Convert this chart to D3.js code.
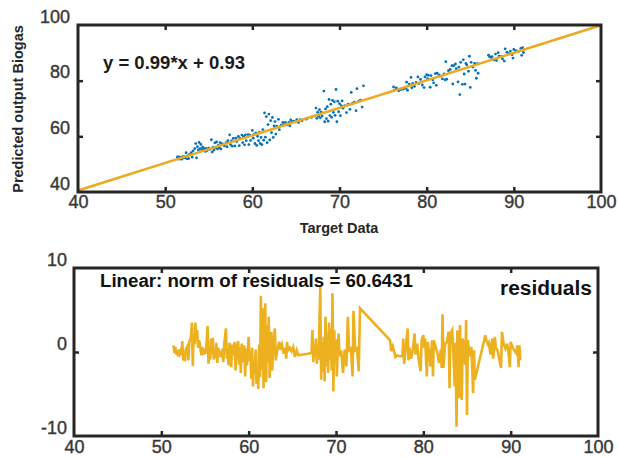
<!DOCTYPE html>
<html>
<head>
<meta charset="utf-8">
<script src="https://cdn.jsdelivr.net/npm/d3@7"></script>
<style>
  body { margin: 0; background: #fff; }
  text { font-family: Arial, "Liberation Sans", Helvetica, sans-serif; }
</style>
</head>
<body>
<div id="chart"></div>
<script>
// fit coefficients (basic fitting, linear)
var fitCoef = [0.99, 0.93];
var eqLabel = "y = 0.99*x + 0.93";
var normLabel = "Linear: norm of residuals = 60.6431";
var xTicks = [40, 50, 60, 70, 80, 90, 100];
var yTicksTop = [40, 60, 80, 100];
var yTicksRes = [-10, 0, 10];

// target values and residuals (sorted by target)
var target = [
  51.4, 51.5, 51.6, 51.7, 51.8, 51.9, 52.0, 52.1, 52.2, 52.3, 52.4, 52.5, 52.6, 52.7, 52.8, 53.0, 53.1, 53.2, 53.4, 53.5,
  53.6, 53.7, 53.8, 53.9, 54.0, 54.1, 54.2, 54.3, 54.4, 54.5, 54.6, 54.7, 54.8, 55.0, 55.1, 55.3, 55.4, 55.5, 55.6, 55.7,
  55.8, 55.9, 56.0, 56.1, 56.2, 56.3, 56.4, 56.5, 56.6, 56.8, 57.0, 57.1, 57.2, 57.4, 57.5, 57.6, 57.7, 57.8, 58.0, 58.1,
  58.2, 58.4, 58.5, 58.6, 58.8, 58.9, 59.0, 59.1, 59.2, 59.3, 59.5, 59.6, 59.7, 59.8, 60.0, 60.1, 60.2, 60.3, 60.4, 60.5,
  60.6, 60.7, 60.8, 60.9, 61.0, 61.1, 61.2, 61.3, 61.4, 61.5, 61.6, 61.7, 61.8, 61.9, 62.0, 62.1, 62.2, 62.3, 62.4, 62.5,
  62.6, 62.7, 62.8, 63.0, 63.1, 63.3, 63.5, 63.6, 63.8, 64.0, 64.2, 64.3, 64.4, 64.5, 64.7, 64.9, 65.1, 65.3, 65.5, 65.7,
  66.2, 66.8, 67.2, 67.3, 67.4, 67.5, 67.6, 67.7, 67.8, 67.9, 68.0, 68.2, 68.3, 68.4, 68.5, 68.6, 68.7, 68.8, 68.9, 69.0,
  69.1, 69.2, 69.3, 69.4, 69.5, 69.6, 69.7, 69.8, 69.9, 70.0, 70.1, 70.2, 70.3, 70.4, 70.6, 70.8, 71.0, 71.2, 71.35, 71.5,
  71.7, 71.9, 72.0, 72.2, 72.4, 72.6, 72.75,
  76.2, 76.3, 76.5, 76.6, 76.8, 77.0, 77.3, 77.6, 77.7, 77.8, 78.0, 78.2, 78.3, 78.4, 78.6, 78.8, 79.0, 79.1, 79.3, 79.5,
  79.7, 79.8, 80.0, 80.1, 80.2, 80.4, 80.5, 80.7, 80.8, 81.0, 81.1, 81.2, 81.4, 81.6, 81.8, 82.0, 82.1, 82.2, 82.3, 82.5,
  82.7, 82.9, 83.0, 83.1, 83.3, 83.4, 83.6, 83.7, 83.8, 83.9, 84.1, 84.2, 84.3, 84.4, 84.5, 84.6, 84.8, 84.9, 85.0, 85.1,
  85.3, 85.5, 85.6, 85.7, 85.8, 85.9, 87.1, 87.2, 87.4, 87.5, 87.7, 87.9, 88.0, 88.2, 88.3, 88.5, 88.7, 88.9, 89.0, 89.2,
  89.4, 89.6, 89.8, 89.9, 90.0, 90.2, 90.4, 90.6, 90.8, 90.9, 91.0, 91.1
];
var residual = [
  0.8, -0.1, 0.6, -0.3, 0.2, -0.5, 0.3, -0.2, 0.1, -0.4, 1.3, -1.0, 0.1, -1.1, 0.3, 0.7, -1.0, 1.2, 1.8, 3.5,
  -1.7, 2.2, 0.9, 3.5, 1.2, 2.6, 0.5, 1.4, 1.0, 0.2, -0.4, 0.6, -0.3, 0.4, -0.2, 3.1, -1.4, 0.2, -0.9, 1.6,
  -0.3, 1.7, -0.9, 0.3, -0.7, 1.1, -1.3, 0.5, 0.1, -0.6, 0.4, -1.2, 0.9, 2.8, -0.8, 0.4, -1.6, 1.1, -1.8, 0.9,
  -0.4, 1.2, -2.2, 0.3, 1.3, -1.5, 0.6, -2.5, 1.0, -1.2, 0.8, -2.9, 0.4, -1.6, 1.8, -1.1, 0.2, -3.2, 0.5, -4.1,
  -0.9, -2.6, 0.3, -3.8, -1.7, -4.4, 0.9, -3.0, 6.7, -2.1, 5.2, -4.3, 2.1, 5.8, -3.6, 3.2, -1.2, 4.2, -3.1, 0.9,
  2.4, -2.2, 0.6, 2.8, -1.0, 0.4, 1.2, 0.3, 0.9, -0.2, 0.5, -0.8, 1.2, 0.2, 0.5, 0.1, 0.6, -0.6, 0.2, -0.4,
  -0.3, -0.2, -0.1, 2.6, -1.2, 0.9, -0.6, 1.6, -1.4, 0.5, -0.9, 7.8, -3.3, 1.2, -2.4, 1.8, -3.5, 4.2, -1.7, 2.3,
  -2.5, 3.5, -0.9, 2.8, -2.2, 7.0, -4.7, 2.6, -1.3, 1.5, -2.9, 0.6, 2.2, -0.5, 0.2, -2.5, 0.3, -1.7, 4.2, 0.2,
  0.4, -2.9, 4.9, 0.2, 0.4, -2.3, 5.2,
  1.4, 0.1, 0.7, 0.3, -0.6, -0.4, -0.5, -0.5, 1.6, -1.4, 0.6, 2.8, -1.0, 0.5, -0.8, 0.4, 2.2, -0.3, 1.0, -1.2,
  -2.3, 1.4, 2.0, 0.5, 1.6, -2.9, 1.2, -0.5, -1.7, 1.4, -2.9, 1.4, 0.6, -0.1, -1.3, 0.3, -1.9, 4.5, -1.9, 1.0,
  1.2, 2.4, -4.3, 2.2, 2.6, 0.8, -4.1, 1.1, -8.9, 2.6, -5.5, 3.2, -2.0, -5.7, 1.6, 1.0, -1.5, 3.8, -7.5, 1.4,
  -0.5, 0.6, -2.0, -4.9, 0.2, -3.3, 2.0, 1.4, 0.9, 1.1, -0.3, 1.6, -0.8, 1.8, 0.5, 0.2, -0.9, -1.9, 2.4, 1.0,
  0.4, 1.0, -0.5, -1.8, 1.2, 0.6, 0.2, -0.1, 0.8, -1.8, 0.8, -1.0
];

function fit(x) { return fitCoef[0] * x + fitCoef[1]; }

var points = target.map(function(t, i) {
  return { t: t, r: residual[i], p: fit(t) + residual[i] };
});

var svg = d3.select("#chart").append("svg")
  .attr("width", 618)
  .attr("height", 457);

var frameColor = "#262626";
var labelColor = "#383838";
var plainNum = function(d) { return String(d); }; // keep ascii hyphen for -10

// ---------- top panel: predicted vs target ----------
var x1 = d3.scaleLinear().domain([40, 100]).range([78, 601]);
var y1 = d3.scaleLinear().domain([40, 100]).range([192, 25]);

var gTop = svg.append("g");

gTop.selectAll(".dot")
  .data(points)
  .enter().append("circle")
  .attr("class", "dot")
  .attr("cx", function(d) { return x1(d.t); })
  .attr("cy", function(d) { return y1(d.p); })
  .attr("r", 1.4)
  .attr("fill", "#0072BD");

gTop.append("line")
  .attr("x1", x1(40)).attr("y1", y1(fit(40)))
  .attr("x2", x1(100)).attr("y2", y1(fit(100)))
  .attr("stroke", "#EDA91F")
  .attr("stroke-width", 2.5);

drawFrame(gTop, x1, y1, xTicks.slice(1, -1), [60, 80]);

// tick labels
var xLab1 = gTop.append("g")
  .attr("transform", "translate(0,192)")
  .call(d3.axisBottom(x1).tickValues(xTicks).tickFormat(plainNum).tickSize(0).tickPadding(0));
styleLabels(xLab1, 16);

var yLab1 = gTop.append("g")
  .attr("transform", "translate(70,0)")
  .call(d3.axisLeft(y1).tickValues(yTicksTop).tickFormat(plainNum).tickSize(0).tickPadding(0));
styleLabels(yLab1, -3);

gTop.append("text")
  .attr("x", 103).attr("y", 69)
  .attr("font-size", 18.5).attr("font-weight", "bold")
  .attr("fill", "#1a1a1a")
  .text(eqLabel);

gTop.append("text")
  .attr("transform", "translate(23,109) rotate(-90)")
  .attr("text-anchor", "middle")
  .attr("font-size", 14.5).attr("font-weight", "bold")
  .attr("fill", "#262626")
  .text("Predicted output Biogas");

gTop.append("text")
  .attr("x", 339).attr("y", 233)
  .attr("text-anchor", "middle")
  .attr("font-size", 14.5).attr("font-weight", "bold")
  .attr("fill", "#262626")
  .text("Target Data");

// ---------- bottom panel: residuals ----------
var x2 = d3.scaleLinear().domain([40, 100]).range([74, 598]);
var y2 = d3.scaleLinear().domain([-10, 10]).range([436, 268]);

var gBot = svg.append("g");

gBot.append("path")
  .datum(points)
  .attr("fill", "none")
  .attr("stroke", "#EDB120")
  .attr("stroke-width", 2.6)
  .attr("stroke-linejoin", "miter")
  .attr("d", d3.line()
    .x(function(d) { return x2(d.t); })
    .y(function(d) { return y2(d.r); }));

drawFrame(gBot, x2, y2, xTicks.slice(1, -1), [0]);

var xLab2 = gBot.append("g")
  .attr("transform", "translate(0,436)")
  .call(d3.axisBottom(x2).tickValues(xTicks).tickFormat(plainNum).tickSize(0).tickPadding(0));
styleLabels(xLab2, 17);

var yLab2 = gBot.append("g")
  .attr("transform", "translate(67,0)")
  .call(d3.axisLeft(y2).tickValues(yTicksRes).tickFormat(plainNum).tickSize(0).tickPadding(0));
styleLabels(yLab2, -3);

gBot.append("text")
  .attr("x", 100).attr("y", 287)
  .attr("font-size", 18).attr("font-weight", "bold")
  .attr("fill", "#111")
  .attr("textLength", 313).attr("lengthAdjust", "spacingAndGlyphs")
  .text(normLabel);

gBot.append("text")
  .attr("x", 500).attr("y", 295)
  .attr("font-size", 20).attr("font-weight", "bold")
  .attr("fill", "#111")
  .attr("textLength", 92).attr("lengthAdjust", "spacingAndGlyphs")
  .text("residuals");

// box with inward ticks on all four sides
function drawFrame(g, xs, ys, xt, yt) {
  var xr = xs.range(), yr = ys.range();
  g.append("g").attr("transform", "translate(0," + yr[0] + ")")
    .call(d3.axisBottom(xs).tickValues(xt).tickSizeInner(-5).tickSizeOuter(0).tickFormat(""));
  g.append("g").attr("transform", "translate(0," + yr[1] + ")")
    .call(d3.axisTop(xs).tickValues(xt).tickSizeInner(-5).tickSizeOuter(0).tickFormat(""));
  g.append("g").attr("transform", "translate(" + xr[0] + ",0)")
    .call(d3.axisLeft(ys).tickValues(yt).tickSizeInner(-5).tickSizeOuter(0).tickFormat(""));
  g.append("g").attr("transform", "translate(" + xr[1] + ",0)")
    .call(d3.axisRight(ys).tickValues(yt).tickSizeInner(-5).tickSizeOuter(0).tickFormat(""));
  g.selectAll(".domain").attr("stroke", "none");
  g.selectAll(".tick line").attr("stroke", frameColor).attr("stroke-width", 2.5);
  g.append("rect")
    .attr("x", xr[0]).attr("y", yr[1])
    .attr("width", xr[1] - xr[0]).attr("height", yr[0] - yr[1])
    .attr("fill", "none")
    .attr("stroke", frameColor)
    .attr("stroke-width", 3);
}

function styleLabels(g, dy) {
  g.select(".domain").remove();
  g.selectAll("text")
    .attr("dy", dy)
    .attr("font-size", 18)
    .attr("font-family", "Arial, 'Liberation Sans', sans-serif")
    .attr("fill", labelColor)
    .attr("stroke", labelColor)
    .attr("stroke-width", 0.4);
}
</script>
</body>
</html>
